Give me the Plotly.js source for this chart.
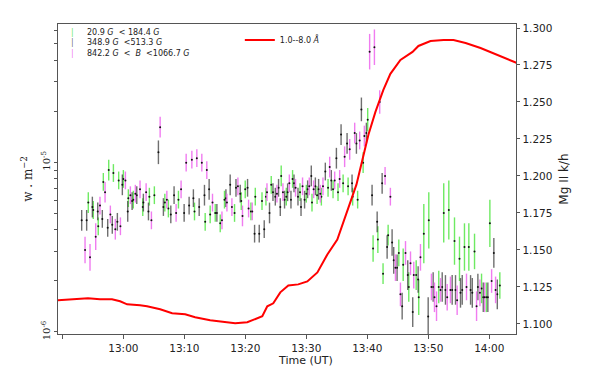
<!DOCTYPE html>
<html>
<head>
<meta charset="utf-8">
<script src="https://cdn.plot.ly/plotly-3.0.1.min.js"></script>
<style>
  body { margin: 0; background: #fff; }
  #plot { width: 598px; height: 381px; }
</style>
</head>
<body>
<div id="plot"></div>
<script>
// times are minutes after 12:00 UT

// GOES 1.0-8.0 A flux (W m^-2)
let goesMin = [49.28, 52.89, 54.20, 56.17, 58.14, 59.46, 60.61, 62.74, 63.89, 66.03,
  68.00, 70.13, 71.77, 74.24, 76.70, 78.34, 80.31, 81.63, 82.78, 83.60,
  84.58, 85.73, 87.05, 88.69, 90.17, 91.81, 93.45, 95.09, 96.73, 98.21,
  99.20, 100.18, 101.33, 102.64, 103.79, 105.43, 107.41, 108.39, 110.36, 112.50,
  114.14, 116.11, 118.57, 121.36, 124.48];
let goesFlux = [1.537e-6, 1.557e-6, 1.578e-6, 1.557e-6, 1.557e-6, 1.516e-6, 1.455e-6, 1.436e-6, 1.416e-6, 1.360e-6,
  1.288e-6, 1.271e-6, 1.220e-6, 1.172e-6, 1.141e-6, 1.125e-6, 1.141e-6, 1.188e-6, 1.237e-6, 1.416e-6,
  1.475e-6, 1.712e-6, 1.882e-6, 1.908e-6, 1.987e-6, 2.245e-6, 2.865e-6, 3.509e-6, 5.13e-6, 7.39e-6,
  1.037e-5, 1.456e-5, 1.986e-5, 2.677e-5, 3.327e-5, 4.018e-5, 4.479e-5, 4.859e-5, 5.198e-5, 5.269e-5,
  5.269e-5, 5.059e-5, 4.726e-5, 4.301e-5, 3.860e-5];

// Mg II k/h, 20.9 G < B < 184.4 G
let greenMin = [54.25, 55.07, 55.89, 56.72, 57.60, 58.36, 59.24, 60.00, 60.82, 61.64,
  63.19, 64.27, 65.09, 66.80, 67.39, 69.03, 71.66, 73.42, 74.24, 75.06,
  75.88, 76.58, 78.23, 79.33, 79.98, 80.92, 81.63, 82.73, 83.38, 84.25,
  85.89, 86.72, 87.75, 88.97, 90.00, 90.94, 91.76, 92.46, 93.56, 94.38,
  95.20, 96.03, 96.85, 97.60, 98.42, 99.31, 100.07, 100.95, 101.74, 102.59,
  103.41, 105.16, 105.88, 106.80, 108.01, 108.44, 109.26, 110.08, 111.72, 112.54,
  113.37, 114.30, 115.12, 115.94, 116.65, 117.59, 118.73, 119.51, 120.10, 121.74];
let greenVal = [1.182, 1.177, 1.166, 1.196, 1.204, 1.202, 1.197, 1.198, 1.185, 1.184,
  1.179, 1.186, 1.187, 1.182, 1.178, 1.184, 1.176, 1.169, 1.174, 1.175,
  1.168, 1.184, 1.175, 1.183, 1.191, 1.176, 1.186, 1.183, 1.186, 1.194,
  1.200, 1.186, 1.198, 1.189, 1.188, 1.182, 1.187, 1.186, 1.192, 1.191,
  1.189, 1.195, 1.193, 1.186, 1.184, 1.209, 1.238, 1.151, 1.157, 1.134,
  1.160, 1.148, 1.140, 1.125, 1.133, 1.118, 1.161, 1.170, 1.125, 1.175,
  1.177, 1.156, 1.144, 1.152, 1.152, 1.149, 1.124, 1.118, 1.168, 1.126];
let greenErr = [0.007, 0.006, 0.006, 0.006, 0.007, 0.006, 0.006, 0.006, 0.006, 0.006,
  0.006, 0.006, 0.006, 0.006, 0.006, 0.006, 0.006, 0.006, 0.006, 0.006,
  0.006, 0.006, 0.006, 0.006, 0.006, 0.006, 0.006, 0.006, 0.006, 0.006,
  0.007, 0.006, 0.006, 0.006, 0.006, 0.006, 0.006, 0.006, 0.006, 0.006,
  0.006, 0.006, 0.006, 0.006, 0.006, 0.007, 0.008, 0.009, 0.009, 0.007,
  0.007, 0.009, 0.011, 0.010, 0.010, 0.012, 0.020, 0.019, 0.011, 0.020,
  0.020, 0.016, 0.015, 0.016, 0.016, 0.012, 0.010, 0.010, 0.016, 0.009];

// Mg II k/h, 348.9 G < B < 513.3 G
let blackMin = [53.17, 53.99, 54.91, 55.80, 56.55, 57.44, 58.19, 59.01, 59.84, 60.72,
  61.43, 62.20, 63.28, 64.11, 65.75, 66.57, 67.78, 68.32, 69.97, 70.79,
  71.49, 72.43, 73.30, 74.07, 75.34, 76.81, 77.52, 78.46, 79.16, 80.36,
  81.51, 82.28, 83.10, 83.97, 84.53, 84.91, 85.45, 85.73, 86.44, 86.93,
  87.49, 87.98, 88.64, 89.13, 89.72, 90.21, 90.82, 91.48, 92.02, 93.12,
  94.10, 94.93, 95.70, 96.68, 97.50, 98.21, 99.03, 99.85, 100.79, 101.61,
  102.43, 103.25, 104.07, 104.33, 104.89, 105.71, 106.63, 107.45, 108.34, 109.98,
  110.80, 112.28, 112.82, 113.92, 114.47, 115.29, 115.57, 116.93, 117.21, 118.13,
  119.01, 119.77, 120.75, 121.31];
let blackVal = [1.170, 1.170, 1.179, 1.176, 1.171, 1.165, 1.167, 1.169, 1.194, 1.176,
  1.183, 1.187, 1.182, 1.176, 1.216, 1.179, 1.174, 1.187, 1.175, 1.180,
  1.185, 1.179, 1.187, 1.191, 1.175, 1.185, 1.194, 1.192, 1.188, 1.192,
  1.161, 1.161, 1.164, 1.175, 1.189, 1.186, 1.192, 1.179, 1.184, 1.189,
  1.184, 1.195, 1.186, 1.179, 1.184, 1.191, 1.200, 1.193, 1.191, 1.203,
  1.197, 1.212, 1.228, 1.222, 1.195, 1.222, 1.245, 1.229, 1.187, 1.169,
  1.195, 1.152, 1.155, 1.143, 1.138, 1.112, 1.133, 1.108, 1.130, 1.105,
  1.125, 1.125, 1.123, 1.123, 1.123, 1.121, 1.123, 1.123, 1.121, 1.125,
  1.118, 1.118, 1.148, 1.120];
let blackErr = [0.007, 0.007, 0.007, 0.006, 0.006, 0.006, 0.006, 0.006, 0.007, 0.007,
  0.006, 0.006, 0.006, 0.006, 0.008, 0.006, 0.006, 0.006, 0.006, 0.006,
  0.006, 0.006, 0.007, 0.007, 0.006, 0.006, 0.007, 0.006, 0.006, 0.006,
  0.006, 0.006, 0.006, 0.007, 0.006, 0.006, 0.006, 0.006, 0.006, 0.006,
  0.006, 0.006, 0.006, 0.006, 0.006, 0.006, 0.007, 0.006, 0.007, 0.006,
  0.007, 0.007, 0.007, 0.007, 0.006, 0.007, 0.008, 0.007, 0.007, 0.007,
  0.007, 0.008, 0.009, 0.009, 0.009, 0.009, 0.010, 0.010, 0.009, 0.013,
  0.010, 0.010, 0.010, 0.010, 0.010, 0.010, 0.010, 0.010, 0.010, 0.009,
  0.010, 0.010, 0.010, 0.010];

// Mg II k/h, 842.2 G < B < 1066.7 G
let pinkMin = [53.71, 54.53, 55.47, 56.17, 57.00, 57.87, 58.69, 59.51, 60.33, 61.15,
  61.97, 62.74, 63.73, 64.60, 66.03, 67.13, 68.65, 69.47, 70.30, 71.23,
  72.05, 72.87, 73.69, 74.61, 76.16, 76.98, 77.80, 78.78, 79.54, 80.53,
  81.13, 83.55, 85.19, 86.17, 87.21, 88.24, 89.39, 90.49, 91.20, 92.30,
  92.74, 93.83, 94.65, 95.47, 96.29, 97.11, 97.93, 98.75, 99.52, 100.39,
  101.17, 102.04, 102.92, 103.79, 104.61, 105.44, 106.26, 107.08, 107.62, 108.72,
  110.52, 111.02, 111.35, 112.00, 113.10, 113.64, 114.74, 116.27, 117.91, 118.46,
  119.23, 120.38, 121.03];
let pinkVal = [1.150, 1.145, 1.159, 1.180, 1.189, 1.174, 1.164, 1.166, 1.197, 1.187,
  1.188, 1.191, 1.189, 1.170, 1.233, 1.184, 1.175, 1.191, 1.209, 1.211,
  1.212, 1.209, 1.204, 1.182, 1.170, 1.182, 1.179, 1.193, 1.173, 1.178,
  1.176, 1.189, 1.188, 1.189, 1.195, 1.192, 1.193, 1.193, 1.191, 1.188,
  1.193, 1.206, 1.197, 1.198, 1.213, 1.218, 1.229, 1.224, 1.227, 1.284,
  1.287, 1.250, 1.200, 1.186, 1.138, 1.120, 1.148, 1.141, 1.133, 1.145,
  1.125, 1.118, 1.112, 1.123, 1.118, 1.123, 1.116, 1.125, 1.112, 1.121,
  1.118, 1.129, 1.123];
let pinkErr = [0.009, 0.009, 0.009, 0.006, 0.007, 0.006, 0.007, 0.006, 0.006, 0.006,
  0.006, 0.006, 0.006, 0.006, 0.007, 0.006, 0.006, 0.006, 0.006, 0.006,
  0.006, 0.006, 0.006, 0.006, 0.006, 0.006, 0.006, 0.006, 0.007, 0.006,
  0.006, 0.006, 0.006, 0.006, 0.006, 0.006, 0.006, 0.006, 0.006, 0.006,
  0.006, 0.007, 0.006, 0.006, 0.007, 0.007, 0.007, 0.006, 0.007, 0.012,
  0.012, 0.008, 0.006, 0.006, 0.009, 0.008, 0.008, 0.008, 0.009, 0.009,
  0.009, 0.010, 0.010, 0.008, 0.009, 0.009, 0.010, 0.009, 0.010, 0.009,
  0.010, 0.008, 0.009];

let xTickMin = [50, 60, 70, 80, 90, 100, 110, 120];
let xTickText = ["", "13:00", "13:10", "13:20", "13:30", "13:40", "13:50", "14:00"];
let kTicks = [1.100, 1.125, 1.150, 1.175, 1.200, 1.225, 1.250, 1.275, 1.300];

// minutes after 12:00 -> date string for the time axis
function toTime(m) {
  let s = Math.round(m * 60);
  let pad = n => String(n).padStart(2, "0");
  let h = 12 + Math.floor(s / 3600);
  let mm = Math.floor((s % 3600) / 60);
  return "2014-06-11 " + pad(h) + ":" + pad(mm) + ":" + pad(s % 60);
}

// log axis ticks: every 1..9 x 10^n, labels only on decades
let fluxTicks = [];
let fluxText = [];
for (let e = -7; e <= -4; e++) {
  for (let k = 1; k <= 9; k++) {
    fluxTicks.push(k * Math.pow(10, e));
    fluxText.push(k == 1 ? "10<sup>" + e + "</sup>" : " ");
  }
}

function band(mins, vals, errs, col) {
  return {
    x: mins.map(toTime),
    y: vals,
    type: "scatter",
    mode: "markers",
    yaxis: "y",
    showlegend: false,
    marker: {color: "#111", size: 2},
    error_y: {type: "data", array: errs, visible: true, color: col, thickness: 1.4, width: 0}
  };
}

let green = "rgba(85,230,70,0.85)";
let black = "rgba(50,50,50,0.7)";
let pink = "rgba(238,110,238,0.9)";

let traces = [
  band(greenMin, greenVal, greenErr, green),
  band(blackMin, blackVal, blackErr, black),
  band(pinkMin, pinkVal, pinkErr, pink),
  {
    x: goesMin.map(toTime),
    y: goesFlux,
    type: "scatter",
    mode: "lines",
    yaxis: "y2",
    name: "1.0--8.0 <i>Å</i>",
    line: {color: "#ff0000", width: 2}
  }
];

let axisLine = "#555";
let tickFont = {family: "DejaVu Sans", size: 10.5, color: "#222"};

let layout = {
  width: 598,
  height: 381,
  margin: {l: 58, r: 82, t: 24, b: 47},
  paper_bgcolor: "#fff",
  plot_bgcolor: "#fff",
  showlegend: true,
  legend: {
    x: 0.397, y: 0.995, xanchor: "left", yanchor: "top",
    bgcolor: "rgba(0,0,0,0)",
    font: {family: "DejaVu Sans", size: 8, color: "#222"}
  },
  xaxis: {
    type: "date",
    range: [toTime(49.28), toTime(124.38)],
    tickvals: xTickMin.map(toTime),
    ticktext: xTickText,
    ticks: "outside", ticklen: 4, tickcolor: axisLine,
    showline: true, linecolor: axisLine, linewidth: 1.3, mirror: true,
    showgrid: false, zeroline: false,
    tickfont: tickFont
  },
  yaxis: {
    side: "right",
    range: [1.0932, 1.3027],
    tickvals: kTicks,
    tickformat: ".3f",
    ticks: "outside", ticklen: 3, tickcolor: axisLine,
    showline: true, linecolor: axisLine, linewidth: 1.3,
    showgrid: false, zeroline: false,
    tickfont: tickFont,
    title: {text: "Mg II k/h", font: {family: "DejaVu Sans", size: 12, color: "#222"}, standoff: 8}
  },
  yaxis2: {
    type: "log",
    overlaying: "y",
    side: "left",
    range: [-6.012, -4.184],
    tickvals: fluxTicks,
    ticktext: fluxText,
    tickangle: -90,
    ticks: "outside", ticklen: 3, tickcolor: axisLine,
    showline: true, linecolor: axisLine, linewidth: 1.3,
    showgrid: false, zeroline: false,
    tickfont: {family: "DejaVu Serif", size: 10, color: "#222"},
    title: {text: "w . m<sup>−2</sup>", font: {family: "DejaVu Serif", size: 12, color: "#222"}, standoff: 4}
  },
  annotations: [
    {
      xref: "paper", yref: "paper", x: 0.54, y: -0.084, xanchor: "center", yanchor: "middle",
      text: "Time (UT)", showarrow: false,
      font: {family: "DejaVu Sans", size: 11, color: "#222"}
    },
    {
      xref: "paper", yref: "paper", x: 0.0306, y: 0.992, xanchor: "center", yanchor: "top",
      text: "<span style='color:" + green + "'>|</span><br><span style='color:" + black + "'>|</span><br><span style='color:" + pink + "'>|</span>",
      showarrow: false, align: "center",
      font: {family: "DejaVu Sans", size: 8}
    },
    {
      xref: "paper", yref: "paper", x: 0.059, y: 0.992, xanchor: "left", yanchor: "top",
      text: "20.9 <i>G</i>  < 184.4 <i>G</i><br>348.9 <i>G</i>  <513.3 <i>G</i><br>842.2 <i>G</i>  <  <i>B</i>  <1066.7 <i>G</i>",
      showarrow: false, align: "left",
      font: {family: "DejaVu Sans", size: 8, color: "#222"}
    }
  ]
};

Plotly.newPlot("plot", traces, layout, {displayModeBar: false, staticPlot: true});
</script>
</body>
</html>
